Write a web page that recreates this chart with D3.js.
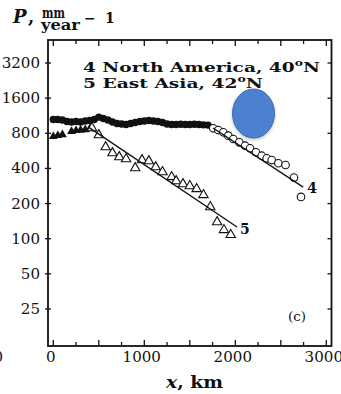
<!DOCTYPE html>
<html>
<head>
<meta charset="utf-8">
<script src="https://cdn.jsdelivr.net/npm/d3@7"></script>
<style>
  html, body { margin: 0; padding: 0; background: #fff; }
  svg { display: block; }
  text { font-family: "DejaVu Serif", serif; fill: #111; }
</style>
</head>
<body>
<svg id="chart" width="341" height="394"></svg>
<script>
// Precipitation P (mm/year) against distance x (km) inland from the coast.
// Series 4: North America, 40°N — plateau (filled) then decay (open).
const naPlateauX = [0, 50, 100, 150, 200, 250, 300, 350, 400, 450, 500, 550, 600, 650, 700, 750, 800, 850,
                    900, 950, 1000, 1050, 1100, 1150, 1200, 1250, 1300, 1350, 1400, 1450, 1500, 1550, 1600, 1650, 1700];
const naPlateauP = [1050, 1050, 1040, 1010, 1000, 1010, 1000, 1020, 1030, 1050, 1100, 1070, 1040, 1000, 970, 960, 950, 970,
                    990, 1010, 1020, 1030, 1020, 1010, 990, 960, 950, 950, 955, 950, 950, 955, 950, 945, 940];
const naDecayX = [1758, 1813, 1868, 1923, 1978, 2044, 2107, 2162, 2227, 2290, 2345, 2400, 2473, 2552, 2645, 2722];
const naDecayP = [883, 853, 816, 763, 715, 669, 626, 595, 550, 514, 488, 472, 443, 428, 334, 228];
const naFitX = [1755, 2746];
const naFitP = [888, 277];

// Series 5: East Asia, 42°N.
const eaPlateauX = [0, 50, 100, 200, 250, 300, 350, 400];
const eaPlateauP = [750, 765, 780, 830, 845, 850, 860, 875];
const eaDecayX = [425, 500, 575, 650, 725, 800, 900, 975, 1050, 1125, 1200, 1300, 1350, 1425, 1500, 1575, 1650, 1725, 1800, 1875, 1950];
const eaDecayP = [888, 773, 610, 542, 501, 482, 403, 472, 463, 411, 373, 338, 312, 294, 283, 267, 237, 187, 139, 119, 108];
const eaFitX = [382, 2019];
const eaFitP = [909, 126];

// Axis ticks
const xTickLabels = [0, 1000, 2000, 3000];
const xMinorTicks = d3.range(0, 3001, 250);
const yTickLabels = [25, 50, 100, 200, 400, 800, 1600, 3200];

// Highlight marker placed in data space
const markX = [2200];
const markP = [1182];

const svg = d3.select("#chart");
const plot = { left: 48, right: 331.5, top: 40, bottom: 346 };

const x = d3.scaleLinear().domain([-58.2, 3057]).range([plot.left, plot.right]);
const y = d3.scaleLog().domain([12.05, 5037]).range([plot.bottom, plot.top]);

const zip = (xs, ps) => xs.map((v, i) => ({ x: v, p: ps[i] }));

// Stretch a text element horizontally to a given width around an anchor point
function fitText(sel, width, ax, ay) {
  const w = sel.node().getComputedTextLength();
  const xx = ax !== undefined ? ax : +sel.attr("x");
  const yy = ay !== undefined ? ay : +sel.attr("y");
  sel.attr("transform", `translate(${xx},${yy}) scale(${width / w},1) translate(${-xx},${-yy})`);
}

// Frame
svg.append("rect")
  .attr("x", plot.left).attr("y", plot.top)
  .attr("width", plot.right - plot.left).attr("height", plot.bottom - plot.top)
  .attr("fill", "none").attr("stroke", "#111").attr("stroke-width", 1.8);

// Bottom and top ticks (inward)
const tickG = svg.append("g").attr("stroke", "#111").attr("stroke-width", 1.3);
xMinorTicks.forEach(v => {
  const len = v % 500 === 0 ? 6 : 4;
  tickG.append("line").attr("x1", x(v)).attr("x2", x(v)).attr("y1", plot.bottom).attr("y2", plot.bottom - len);
  tickG.append("line").attr("x1", x(v)).attr("x2", x(v)).attr("y1", plot.top).attr("y2", plot.top + len);
});
// Left and right ticks
yTickLabels.forEach(v => {
  tickG.append("line").attr("x1", plot.left - 3).attr("x2", plot.left + 3).attr("y1", y(v)).attr("y2", y(v));
  tickG.append("line").attr("x1", plot.right).attr("x2", plot.right - 4).attr("y1", y(v)).attr("y2", y(v));
});

// Tick labels (wide serif digits)
svg.append("g").selectAll("text").data(xTickLabels).join("text")
  .attr("x", d => x(d) - 2.5).attr("y", 362)
  .attr("text-anchor", "middle").attr("font-size", 14.5)
  .text(d => d)
  .each(function(d) { fitText(d3.select(this), String(d).length * 9.6); });
svg.append("g").selectAll("text").data(yTickLabels).join("text")
  .attr("x", 40).attr("y", d => y(d) + 5)
  .attr("text-anchor", "end").attr("font-size", 14.5)
  .text(d => d)
  .each(function(d) { fitText(d3.select(this), String(d).length * 9.6); });
// Neighbouring panel's last x label, clipped at the edge
svg.append("text").attr("x", 3).attr("y", 362).attr("text-anchor", "end").attr("font-size", 14.5).text("3000");

// Data: plateau (filled) markers
svg.append("g").selectAll("circle").data(zip(naPlateauX, naPlateauP)).join("circle")
  .attr("cx", d => x(d.x)).attr("cy", d => y(d.p)).attr("r", 3.7).attr("fill", "#111");

const tri = d3.symbol().type(d3.symbolTriangle);
svg.append("g").selectAll("path").data(zip(eaPlateauX, eaPlateauP)).join("path")
  .attr("transform", d => `translate(${x(d.x)},${y(d.p)})`)
  .attr("d", tri.size(34)()).attr("fill", "#111");

// Decay (open) markers
svg.append("g").selectAll("circle").data(zip(naDecayX, naDecayP)).join("circle")
  .attr("cx", d => x(d.x)).attr("cy", d => y(d.p)).attr("r", 3.8)
  .attr("fill", "#fff").attr("stroke", "#111").attr("stroke-width", 1.1);

svg.append("g").selectAll("path").data(zip(eaDecayX, eaDecayP)).join("path")
  .attr("transform", d => `translate(${x(d.x)},${y(d.p)})`)
  .attr("d", tri.size(38)()).attr("fill", "#fff").attr("stroke", "#111").attr("stroke-width", 1.1);

// Fit lines
const line = d3.line().x(d => x(d.x)).y(d => y(d.p));
svg.append("path").datum(zip(naFitX, naFitP)).attr("d", line)
  .attr("fill", "none").attr("stroke", "#111").attr("stroke-width", 1.4);
svg.append("path").datum(zip(eaFitX, eaFitP)).attr("d", line)
  .attr("fill", "none").attr("stroke", "#111").attr("stroke-width", 1.4);

// Curve numbers at line ends
svg.append("text").attr("x", x(naFitX[1]) + 4).attr("y", y(naFitP[1]) + 6)
  .attr("font-size", 14).attr("font-weight", "bold").text("4");
svg.append("text").attr("x", x(eaFitX[1]) + 3).attr("y", y(eaFitP[1]) + 7)
  .attr("font-size", 14).attr("font-weight", "bold").text("5");

// Legend text
function legendLine(yb, num, name, lat, width) {
  const t = svg.append("text").attr("x", 83).attr("y", yb)
    .attr("font-size", 13.5).attr("font-weight", "bold");
  t.append("tspan").text(`${num} ${name}, ${lat}`);
  t.append("tspan").attr("font-size", 9).attr("dy", -6).text("o");
  t.append("tspan").attr("dy", 6).text("N");
  fitText(t, width);
}
legendLine(72, 4, "North America", 40, 237);
legendLine(88, 5, "East Asia", 42, 180);

// Panel tag
svg.append("text").attr("x", 288).attr("y", 321).attr("font-size", 13.5).text("(c)");

// Y axis title: P, mm / year^-1
svg.append("text").attr("x", 13).attr("y", 23).attr("font-size", 18)
  .attr("font-weight", "bold").attr("font-style", "italic").text("P");
svg.append("text").attr("x", 28).attr("y", 23).attr("font-size", 18)
  .attr("font-weight", "bold").text(",");
const mm = svg.append("text").attr("x", 42).attr("y", 18).attr("font-size", 14)
  .attr("font-weight", "bold").text("mm");
fitText(mm, 23);
const yr = svg.append("text").attr("x", 41).attr("y", 30).attr("font-size", 14.5)
  .attr("font-weight", "bold").text("year");
fitText(yr, 39);
svg.append("text").attr("x", 84).attr("y", 23).attr("font-size", 14)
  .attr("font-weight", "bold").text("−");
svg.append("text").attr("x", 105).attr("y", 23).attr("font-size", 14)
  .attr("font-weight", "bold").text("1");

// X axis title
const xt = svg.append("text").attr("x", 166).attr("y", 388).attr("font-size", 16).attr("font-weight", "bold");
xt.append("tspan").attr("font-style", "italic").text("x");
xt.append("tspan").text(", km");
fitText(xt, 57);

// Highlight ellipse
const defs = svg.append("defs");
const f = defs.append("filter").attr("id", "soft").attr("x", "-30%").attr("y", "-30%").attr("width", "160%").attr("height", "160%");
f.append("feDropShadow").attr("dx", 0).attr("dy", 1.5).attr("stdDeviation", 1.5).attr("flood-color", "#000").attr("flood-opacity", 0.25);
svg.append("g").selectAll("ellipse").data(zip(markX, markP)).join("ellipse")
  .attr("cx", d => x(d.x)).attr("cy", d => y(d.p)).attr("rx", 21).attr("ry", 24.5)
  .attr("fill", "#4d80cf").attr("stroke", "#3d69ae").attr("stroke-width", 1)
  .attr("filter", "url(#soft)");
</script>
</body>
</html>
